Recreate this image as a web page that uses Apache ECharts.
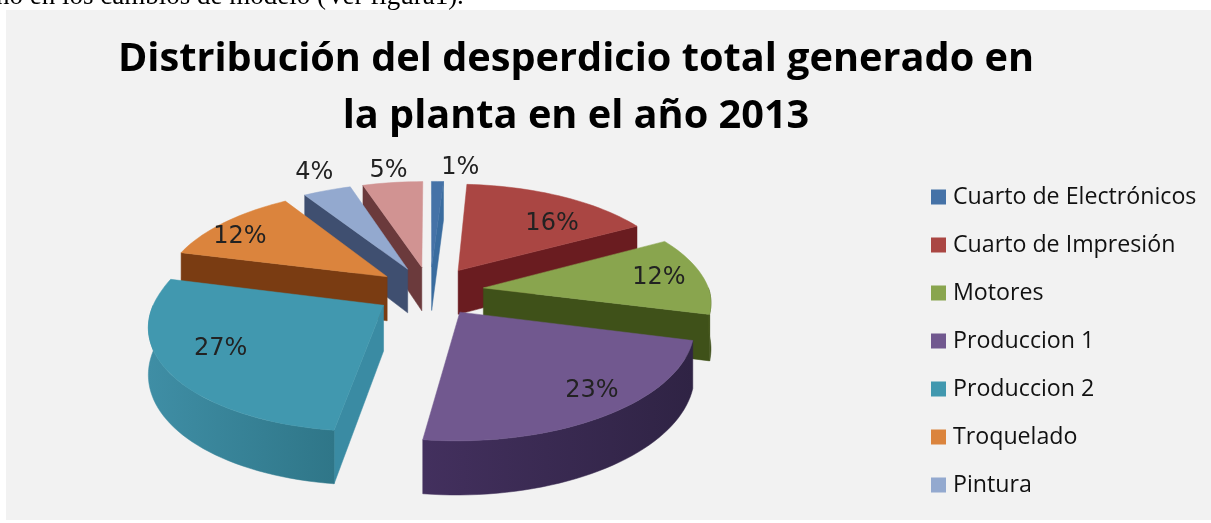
<!DOCTYPE html>
<html>
<head>
<meta charset="utf-8">
<style>html,body{margin:0;padding:0;background:#fff}#chart{width:1211px;height:523px}</style>
<script src="https://cdn.jsdelivr.net/npm/echarts@6/dist/echarts.min.js"></script>
</head>
<body>
<div id="chart"></div>
<script>
// Waste shares per plant area, clockwise from twelve o'clock
const categories = ['Cuarto de Electrónicos', 'Cuarto de Impresión', 'Motores', 'Produccion 1', 'Produccion 2', 'Troquelado', 'Pintura', 'Otros'];
const values = [1, 16, 12, 23, 27, 12, 4, 5];
const legendNames = categories.slice(0, 7);

const topColors = ['#4572a7', '#aa4643', '#89a54e', '#71588f', '#4198af', '#db843d', '#93a9cf', '#d19392'];
const sideColors = ['#3a6c9f', '#6a1c20', '#3f5119', '#3a2b55', '#3a8ba3', '#7a3c12', '#3f4f70', '#6b3a3c'];
// Curved rim shading, left to right
const rimLeft = ['#3a6c9f', '#6a1c20', '#46581c', '#43305e', '#3f8ea5', '#7a3c12', '#3f4f70', '#6b3a3c'];
const rimRight = ['#3a6c9f', '#6a1c20', '#3a4a16', '#2f2344', '#2f7688', '#7a3c12', '#3f4f70', '#6b3a3c'];

// Where each percentage sits, as pie-plane polar offsets from the slice's own apex
const labelAngles = [7.4, 42.5, 83, 141, 239.5, 300.6, 336, 351];
const labelRadii = [1.19, 0.69, 0.8, 0.83, 0.75, 0.83, 1.25, 1.16];

// Tilted-disc projection
const CX = 430, CY = 291, RADIUS = 226, EXPLODE = 54, TILT = 0.46, DEPTH = 1600, WALL = 45, SKEW = 0.03;

const total = values.reduce((a, b) => a + b, 0);
const starts = values.map((_, i) => values.slice(0, i).reduce((a, b) => a + b, 0) / total * 360);
const rad = d => d * Math.PI / 180;

function project(x, y, z) {
  const s = DEPTH / (DEPTH - y);
  return [CX + (x - SKEW * Math.max(y, 0)) * s, CY + TILT * y * s + z * s];
}
// Point on a slice, at polar (angle clockwise from the back, radius) around its apex
function onSlice(mid, angle, r, z) {
  const x = EXPLODE * Math.sin(rad(mid)) + r * Math.sin(rad(angle));
  const y = -EXPLODE * Math.cos(rad(mid)) - r * Math.cos(rad(angle));
  return project(x, y, z);
}
function arcAngles(from, to) {
  const out = [];
  const n = Math.max(1, Math.ceil((to - from) / 2));
  for (let k = 0; k <= n; k++) out.push(from + (to - from) * k / n);
  return out;
}

function renderSlice(i) {
  return function (params, api) {
    const a0 = starts[i];
    const a1 = a0 + api.value(0) / total * 360;
    const mid = (a0 + a1) / 2;
    const children = [];
    const poly = (points, fill, z2) => children.push({
      type: 'polygon', z2, shape: { points }, style: { fill, stroke: fill, lineWidth: 0.5 }
    });

    // A radial wall is seen only when its outward normal points toward the viewer
    const side = angle => {
      poly([onSlice(mid, 0, 0, 0), onSlice(mid, angle, RADIUS, 0), onSlice(mid, angle, RADIUS, WALL), onSlice(mid, 0, 0, WALL)], sideColors[i], 1);
    };
    if (Math.cos(rad(a0 - 90)) < -1e-6) side(a0);
    if (Math.cos(rad(a1 + 90)) < -1e-6) side(a1);

    // Curved rim, front half only
    const r0 = Math.max(a0, 90), r1 = Math.min(a1, 270);
    if (r1 > r0) {
      const angles = arcAngles(r0, r1);
      const upper = angles.map(a => onSlice(mid, a, RADIUS, 0));
      const lower = angles.map(a => onSlice(mid, a, RADIUS, WALL)).reverse();
      poly(upper.concat(lower), new echarts.graphic.LinearGradient(0, 0, 1, 0, [
        { offset: 0, color: rimLeft[i] },
        { offset: 1, color: rimRight[i] }
      ]), 2);
    }

    // Top face
    poly([onSlice(mid, 0, 0, 0)].concat(arcAngles(a0, a1).map(a => onSlice(mid, a, RADIUS, 0))), topColors[i], 3);

    // Percentage
    const at = onSlice(mid, labelAngles[i], labelRadii[i] * RADIUS, 0);
    children.push({
      type: 'text', z2: 4,
      style: {
        x: at[0], y: at[1], text: api.value(0) + '%', align: 'center', verticalAlign: 'middle',
        font: '24px "DejaVu Sans"', fill: '#222222'
      }
    });
    return { type: 'group', children };
  };
}

// Farther slices paint first
const depthRank = categories.map((_, i) => {
  const mid = starts[i] + values[i] / total * 180;
  return -Math.cos(rad(mid));
});
const ordered = depthRank.map((d, i) => [d, i]).sort((p, q) => p[0] - q[0]).map(p => p[1]);

const chart = echarts.init(document.getElementById('chart'), null, { renderer: 'canvas' });
chart.setOption({
  animation: false,
  backgroundColor: '#ffffff',
  title: {
    text: 'Distribución del desperdicio total generado en\nla planta en el año 2013',
    left: 571, top: 26, textAlign: 'center',
    textStyle: { fontFamily: 'Open Sans', fontWeight: 'bold', fontSize: 39.7, lineHeight: 57, color: '#000000' }
  },
  graphic: [
    {
      type: 'text', z: -3, silent: true,
      style: { x: -4, y: 10, text: 'no en los cambios de modelo (Ver figura1).', font: '27px "Liberation Serif"', fill: '#000', verticalAlign: 'bottom' }
    },
    {
      type: 'rect', z: -2, silent: true,
      shape: { x: 6, y: 10, width: 1205, height: 510 },
      style: { fill: '#f2f2f2' }
    }
  ],
  legend: {
    data: legendNames, orient: 'vertical', left: 926, top: 178,
    icon: 'rect', itemWidth: 15, itemHeight: 15, itemGap: 20, selectedMode: false,
    textStyle: { fontFamily: 'Open Sans', fontSize: 23.2, color: '#111', padding: [0, 0, 0, 2], lineHeight: 28 }
  },
  series: ordered.map((i, rank) => ({
    type: 'custom',
    name: categories[i],
    coordinateSystem: 'none',
    z: 2 + rank,
    silent: true,
    itemStyle: { color: topColors[i] },
    renderItem: renderSlice(i),
    data: [[values[i]]]
  }))
});
</script>
</body>
</html>
